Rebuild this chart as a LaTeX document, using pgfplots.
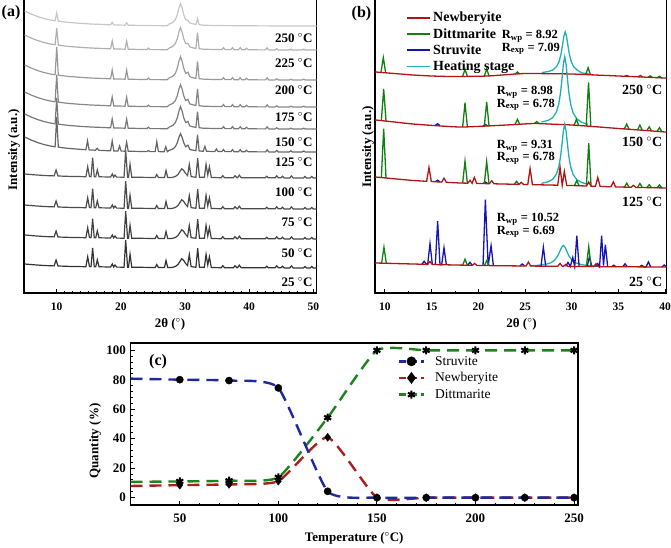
\documentclass[border=0pt]{standalone}
\usepackage{fontspec}
\setmainfont{Liberation Serif}
\usepackage{pgfplots}
\usepackage{pgfplotstable}
\pgfplotsset{compat=1.18}

\newcommand{\fs}[1]{\fontsize{#1}{#1}\selectfont}

% grey levels of the stacked patterns, dark (25 C) to light (250 C)
\definecolor{g25}{gray}{0.20}
\definecolor{g50}{gray}{0.25}
\definecolor{g75}{gray}{0.29}
\definecolor{g100}{gray}{0.33}
\definecolor{g125}{gray}{0.40}
\definecolor{g150}{gray}{0.47}
\definecolor{g175}{gray}{0.53}
\definecolor{g200}{gray}{0.60}
\definecolor{g225}{gray}{0.69}
\definecolor{g250}{gray}{0.78}
% phase colours
\definecolor{cNew}{RGB}{176,20,20}
\definecolor{cDit}{RGB}{16,128,16}
\definecolor{cStr}{RGB}{20,20,176}
\definecolor{cHeat}{RGB}{32,176,176}
\definecolor{qStr}{RGB}{30,40,160}
\definecolor{qNew}{RGB}{170,30,30}
\definecolor{qDit}{RGB}{30,130,30}

% struvite-type pattern (25-100 C), relative to its baseline
\pgfplotstableread{
x y
5.0 4.0
6.5 3.2
8.0 2.5
9.6 2.1
9.9 8.0
10.2 2.0
12.0 1.6
14.55 1.3
14.83 11.3
15.1 1.5
15.35 1.3
15.6 20.2
15.85 1.3
16.08 1.2
16.33 8.2
16.6 1.2
18.4 1.0
18.67 4.0
18.88 1.0
19.09 3.0
19.35 0.9
20.5 0.8
20.75 27.8
21.05 0.8
21.2 0.8
21.43 13.8
21.7 0.8
25.35 0.5
25.6 3.5
25.85 0.5
26.8 0.5
27.04 7.5
27.3 0.4
28.0 0.6
28.5 1.5
28.9 3.5
29.2 6.5
29.5 9.3
29.8 7.5
30.1 4.5
30.4 2.5
30.67 13.5
30.95 1.5
31.3 1.0
31.7 0.8
31.98 19.8
32.25 0.7
33.02 0.7
33.28 13.6
33.55 3.0
33.8 11.3
34.1 0.5
35.65 0.3
35.9 2.3
36.15 0.3
37.55 0.3
37.8 2.3
38.1 0.3
38.2 0.3
38.47 2.8
38.75 0.3
42.5 0.2
42.74 1.7
43.0 0.2
44.05 0.2
44.3 2.2
44.55 0.2
44.95 0.2
45.2 1.7
45.45 0.1
46.35 0.1
46.6 2.1
46.85 0.1
48.45 0.0
48.7 1.5
48.95 0.0
49.5 0.0
49.75 1.5
50.0 0.0
50.5 0.0
}\struvitetab

% dittmarite-type patterns, columns a..f = 250, 225, 200, 175, 150, 125 C
\pgfplotstableread{
x a b c d e f
5.0 15 15 15 15 15 15
6.0 12 12 12 12 12 12
7.0 9.5 9.5 9.5 9.5 9.5 9.5
8.0 7.5 7.5 7.5 7.5 7.5 7.5
9.0 6.0 6.0 6.0 6.0 6.0 6.0
9.75 5.2 5.2 5.2 5.2 5.2 5.2
10.0 13 22 33 32 31 35
10.25 4.9 4.9 4.9 4.9 4.9 4.9
11.0 4.2 4.2 4.2 4.2 4.2 4.2
12.0 3.5 3.5 3.5 3.5 3.5 3.5
14.0 2.5 2.5 2.5 2.5 2.5 2.5
14.55 2.3 2.3 2.3 2.3 2.3 2.3
14.8 2.2 2.2 2.2 2.2 2.2 11.2
15.05 2.1 2.1 2.1 2.1 2.1 2.1
16.05 1.8 1.8 1.8 1.8 1.8 1.8
16.3 1.75 1.75 1.75 1.75 1.75 3.75
16.55 1.7 1.7 1.7 1.7 1.7 1.7
18.4 1.15 1.15 1.15 1.15 1.15 1.15
18.65 3.6 9.1 10.1 10.1 10.1 11.1
18.9 1.05 1.05 1.05 1.05 1.05 1.05
19.55 1.0 1.0 1.0 1.0 1.0 1.0
19.8 0.95 0.95 0.95 0.95 0.95 5.95
20.05 0.9 0.9 0.9 0.9 0.9 0.9
20.65 0.82 0.82 0.82 0.82 0.82 0.82
20.9 3.3 8.8 9.8 9.8 9.8 9.8
21.15 0.78 0.78 0.78 0.78 0.78 0.78
24.05 0.42 0.42 0.42 0.42 0.42 0.42
24.3 0.4 1.9 1.9 1.9 1.9 1.4
24.55 0.4 0.4 0.4 0.4 0.4 0.4
25.35 0.38 0.38 0.38 0.38 0.38 0.38
25.6 0.37 0.37 0.37 0.37 0.37 10.37
25.85 0.36 0.36 0.36 0.36 0.36 0.36
26.75 0.33 0.33 0.33 0.33 0.33 0.33
27.0 0.32 0.32 0.32 0.32 0.32 5.32
27.25 0.32 0.32 0.32 0.32 0.32 0.32
27.5 1.84 1.84 1.91 1.84 1.84 1.56
28.1 3.6 3.6 3.75 3.6 3.6 3.0
28.5 6.46 6.46 6.74 6.46 6.46 5.34
28.8 11.3 11.3 11.8 11.3 11.3 9.3
29.05 17.9 17.9 18.7 17.9 17.9 14.7
29.3 22.3 22.3 23.3 22.3 22.3 18.3
29.55 17.9 17.9 18.7 17.9 17.9 14.7
29.8 11.3 11.3 11.8 11.3 11.3 9.3
30.1 6.4 6.4 6.7 6.4 6.4 5.3
30.45 5.65 6.65 7.85 7.65 7.65 6.85
30.75 3.1 3.1 3.25 3.1 3.1 2.6
31.1 2.4 2.4 2.5 2.4 2.4 2.0
31.7 1.5 1.5 1.6 1.5 1.5 1.3
31.95 7.4 17.4 18.5 18.4 17.4 17.2
32.2 1.3 1.3 1.35 1.3 1.3 1.1
32.85 0.8 0.8 0.85 0.8 0.8 0.7
33.1 0.8 0.8 0.8 0.8 0.8 5.7
33.35 0.7 0.7 0.7 0.7 0.7 0.7
34.65 0.5 0.5 0.5 0.5 0.5 0.5
34.9 0.5 0.5 0.5 0.5 0.5 3.0
35.15 0.45 0.45 0.45 0.45 0.45 0.45
35.75 0.4 0.4 0.4 0.4 0.4 0.4
36.0 0.4 2.4 2.4 2.4 2.4 2.4
36.25 0.4 0.4 0.4 0.4 0.4 0.4
37.15 0.35 0.35 0.35 0.35 0.35 0.35
37.4 0.35 2.35 2.35 2.35 2.35 2.35
37.65 0.3 0.3 0.3 0.3 0.3 0.3
38.35 0.3 0.3 0.3 0.3 0.3 0.3
38.6 0.3 2.3 2.3 2.3 2.3 2.3
38.85 0.3 0.3 0.3 0.3 0.3 0.3
39.35 0.25 0.25 0.25 0.25 0.25 0.25
39.6 0.25 1.75 1.75 1.75 1.75 1.75
39.85 0.2 0.2 0.2 0.2 0.2 0.2
42.55 0.1 0.1 0.1 0.1 0.1 0.1
42.8 0.1 2.1 2.1 2.1 2.1 2.1
43.05 0.1 0.1 0.1 0.1 0.1 0.1
44.05 0.05 0.05 0.05 0.05 0.05 0.05
44.3 0.05 1.25 1.25 1.25 1.25 1.55
44.55 0 0 0 0 0 0
46.25 0 0 0 0 0 0
46.5 0 0.8 0.8 0.8 0.8 1.2
46.75 0 0 0 0 0 0
48.25 0 0 0 0 0 0
48.5 0 0.8 0.8 0.8 0.8 1.0
48.75 0 0 0 0 0 0
50.5 0 0 0 0 0 0
}\dittmtab

\tikzset{
  tlab/.style={anchor=east, font=\bfseries\fs{13}, inner sep=0pt},
  rlab/.style={anchor=north west, align=left, font=\bfseries\fs{12.5}, inner sep=0pt},
}
\pgfplotsset{
  panel/.style={
    scale only axis, anchor=south west,
    axis line style={line width=1.6pt},
    every tick/.style={black, line width=1pt},
    tick align=inside, major tick length=4pt, minor tick length=2.5pt,
    /pgf/number format/assume math mode=true,
    label style={font=\bfseries\fs{13}},
  },
  xrd/.style={
    panel, height=295pt, ymin=0, ymax=295,
    ytick=\empty, xtick pos=left,
    xticklabel style={font=\bfseries\fs{11.5}, anchor=center, yshift=-14pt, inner sep=0pt},
    xlabel={2θ ($^{\circ}$)},
    ylabel={Intensity (a.u.)},
  },
  dline/.style={line width=2.4pt, dash pattern=on 12pt off 7pt, smooth, tension=0.3},
  mk/.style={only marks, black, mark options={solid, fill=black}},
}

\begin{document}
\begin{tikzpicture}
\path[use as bounding box] (0pt,0pt) rectangle (671pt,547pt);

% ---------------- (a) in-situ patterns ----------------
\begin{axis}[xrd, at={(24pt,254pt)}, width=292.5pt,
  xmin=4.9, xmax=50.5, xtick={10,20,30,40,50}, minor x tick num=7,
  xlabel style={at={(axis description cs:0.499,-0.105)}, anchor=center},
  ylabel style={at={(axis description cs:-0.034,0.485)}, anchor=center},
  every axis plot/.append style={line width=1.2pt}]
\addplot[g25] table[x=x, y expr=\thisrow{y}+25] {\struvitetab};
\addplot[g50] table[x=x, y expr=\thisrow{y}+54] {\struvitetab};
\addplot[g75] table[x=x, y expr=\thisrow{y}+84] {\struvitetab};
\addplot[g100] table[x=x, y expr=\thisrow{y}+115] {\struvitetab};
\addplot[g125] table[x=x, y expr=\thisrow{f}+141] {\dittmtab};
\addplot[g150] table[x=x, y expr=\thisrow{e}+164] {\dittmtab};
\addplot[g175] table[x=x, y expr=\thisrow{d}+186] {\dittmtab};
\addplot[g200] table[x=x, y expr=\thisrow{c}+213] {\dittmtab};
\addplot[g225] table[x=x, y expr=\thisrow{b}+243] {\dittmtab};
\addplot[g250] table[x=x, y expr=\thisrow{a}+267] {\dittmtab};
\node[tlab] at (axis cs:49.9,255) {250 $^{\circ}$C};
\node[tlab] at (axis cs:49.9,230) {225 $^{\circ}$C};
\node[tlab] at (axis cs:49.9,203) {200 $^{\circ}$C};
\node[tlab] at (axis cs:49.9,176) {175 $^{\circ}$C};
\node[tlab] at (axis cs:49.9,151) {150 $^{\circ}$C};
\node[tlab] at (axis cs:49.9,131) {125 $^{\circ}$C};
\node[tlab] at (axis cs:49.9,101) {100 $^{\circ}$C};
\node[tlab] at (axis cs:49.9,71) {75 $^{\circ}$C};
\node[tlab] at (axis cs:49.9,40) {50 $^{\circ}$C};
\node[tlab] at (axis cs:49.9,11) {25 $^{\circ}$C};
\end{axis}

% ---------------- (b) refined phase contributions ----------------
\begin{axis}[xrd, at={(375pt,254pt)}, width=291.5pt,
  xmin=8.93, xmax=40.15, xtick={10,15,...,40}, minor x tick num=1,
  unbounded coords=jump,
  xlabel style={at={(axis description cs:0.503,-0.105)}, anchor=center},
  ylabel style={at={(axis description cs:-0.024,0.495)}, anchor=center},
  every axis plot/.append style={line width=1.3pt, forget plot},
  legend style={at={(0.097,0.966)}, anchor=north west, draw=none, fill=none,
    font=\bfseries\fs{14}, row sep=1pt},
  legend cell align=left,
  legend image code/.code={\draw[#1, line width=1.7pt] (0pt,0pt) -- (23pt,0pt);}]
% 250 C
\addplot[cHeat] coordinates {(26.8,220.4) (27.5,221.5) (28.0,223.1) (28.4,226.8) (28.65,231.6) (28.85,238.8) (29.0,247.0) (29.15,256.5) (29.3,261.1) (29.45,256.4) (29.6,246.9) (29.75,238.6) (29.95,231.3) (30.2,226.4) (30.6,222.8) (31.1,220.0) (31.8,219.4)};
\addplot[cDit] coordinates {(9.57,220.6) (9.82,235.4) (10.07,220.2) (10.1,nan)
 (18.32,216.6) (18.57,223.7) (18.82,216.7) (18.9,nan)
 (20.64,216.9) (20.89,224.0) (21.14,217.1) (21.2,nan)
 (23.93,218.8) (24.18,221.0) (24.43,219.1) (24.5,nan)
 (31.5,218.4) (31.75,225.3) (32.0,218.2) (32.1,nan)
 (35.65,216.7) (35.9,217.6) (36.15,216.5) (36.2,nan)
 (37.1,216.2) (37.35,217.6) (37.6,216.0) (37.7,nan)
 (38.15,215.7) (38.4,217.1) (38.65,215.5) (38.7,nan)
 (39.15,215.3) (39.4,216.7) (39.65,215.1)};
\addplot[cNew, smooth] coordinates {(8.93,221.2) (9,221) (11,219.5) (13,218) (15,217) (17,216.5) (19,216.6) (21,217) (23,218.3) (25,219.5) (27.5,219.3) (30,219) (32.5,218) (35,217) (37.5,216) (40.15,214.9)};
% 150 C
\addplot[cHeat] coordinates {(26.75,171.0) (27.45,172.5) (27.95,175.2) (28.35,180.8) (28.6,188.6) (28.8,200.2) (28.95,213.4) (29.1,228.7) (29.25,236.3) (29.4,228.6) (29.55,213.2) (29.7,199.8) (29.9,188.2) (30.15,180.1) (30.55,174.0) (31.05,170.8) (31.75,168.6)};
\addplot[cStr] coordinates {(15.39,167.6) (15.64,169.2) (15.89,167.4) (15.9,nan) (20.5,166.9) (20.75,168.5) (21.0,167.1)};
\addplot[cDit] coordinates {(9.61,172.4) (9.86,204.1) (10.11,171.9) (10.2,nan)
 (18.32,166.1) (18.57,190.2) (18.82,166.3) (18.9,nan)
 (20.64,167.0) (20.89,191.1) (21.14,167.2) (21.2,nan)
 (23.93,168.5) (24.18,173.6) (24.43,168.7) (24.5,nan)
 (26.0,169.5) (26.25,171.4) (26.5,169.3) (26.6,nan)
 (30.25,167.8) (30.5,173.65) (30.75,167.5) (30.8,nan)
 (31.55,166.9) (31.8,210.7) (32.05,166.5) (32.1,nan)
 (35.64,164.1) (35.89,168.9) (36.14,163.7) (36.2,nan)
 (37.05,163.1) (37.3,167.9) (37.55,162.7) (37.6,nan)
 (38.05,162.4) (38.3,166.2) (38.55,162.0) (38.6,nan)
 (39.15,161.6) (39.4,165.4) (39.65,161.2)};
\addplot[cNew, smooth] coordinates {(8.93,173.1) (9,173) (11,171) (13,169) (15.5,167.3) (18,166) (20,166.6) (22,167.5) (24,168.5) (26,169.5) (28,168.8) (30,168) (32.5,166.3) (35,164.5) (37.5,162.8) (40.15,160.9)};
% 125 C
\addplot[cHeat] coordinates {(26.75,109.7) (27.45,111.15) (27.95,113.55) (28.35,118.7) (28.6,125.75) (28.8,136.1) (28.95,148.1) (29.1,161.75) (29.25,168.65) (29.4,161.7) (29.55,148.0) (29.7,136.0) (29.9,125.6) (30.15,118.5) (30.55,113.2) (31.05,110.6) (31.75,108.6)};
\addplot[cStr] coordinates {(15.39,111.3) (15.64,112.8) (15.89,111.1) (15.9,nan) (20.5,109.5) (20.75,111.0) (21.0,109.4)};
\addplot[cDit] coordinates {(9.61,115.5) (9.86,164.3) (10.11,115.0) (10.2,nan)
 (18.32,110.0) (18.57,131.9) (18.82,109.85) (18.9,nan)
 (20.64,109.45) (20.89,131.4) (21.14,109.35) (21.2,nan)
 (23.85,108.75) (24.1,111.7) (24.35,108.65) (24.4,nan)
 (30.29,107.4) (30.54,112.35) (30.79,107.3) (30.8,nan)
 (31.57,107.0) (31.82,149.9) (32.07,106.8) (32.1,nan)
 (35.64,105.85) (35.89,109.8) (36.14,105.8) (36.2,nan)
 (37.05,105.6) (37.3,109.55) (37.55,105.5) (37.6,nan)
 (38.05,105.4) (38.3,108.35) (38.55,105.3) (38.6,nan)
 (39.15,105.15) (39.4,108.1) (39.65,105.1)};
\addplot[cNew] coordinates {(8.93,116.1) (9,116) (11,114.2) (13,112.5) (14.46,111.7) (14.71,125.6) (14.96,111.5) (15.5,111.2) (16.07,110.9) (16.32,114.8) (16.57,110.7) (18,110) (18.86,109.8) (19.11,112.7) (19.33,109.7) (19.57,115.6) (19.82,109.6) (21.18,109.3) (21.43,112.2) (21.68,109.2) (24.35,108.6) (24.6,110.6) (24.85,108.5) (25.29,108.45) (25.54,124.4) (25.79,108.35) (27.5,108) (28.5,107.8) (28.75,125.7) (28.98,107.7) (29.21,121.6) (29.46,107.6) (30,107.5) (31.57,107.0) (31.82,110.9) (32.07,106.8) (32.54,106.7) (32.79,115.6) (33.04,106.6) (34.2,106.2) (34.45,111.1) (34.7,106.1) (36.35,105.7) (36.6,107.7) (36.85,105.6) (37.5,105.5) (40.15,105)};
% 25 C
\addplot[cHeat] coordinates {(25.5,27.1) (26.3,27.6) (27.2,28.6) (27.8,30.35) (28.2,33.1) (28.5,37.1) (28.7,41.1) (28.9,45.5) (29.1,47.6) (29.3,45.5) (29.5,41.1) (29.7,37.1) (30.0,33.05) (30.4,30.2) (31.0,28.4) (31.9,27.3) (33.0,26.6)};
\addplot[cStr] coordinates {(13.95,28.75) (14.2,31.7) (14.45,28.65) (14.57,28.6) (14.82,49.55) (15.07,28.5) (15.2,nan)
 (15.39,28.45) (15.64,71.9) (15.89,28.35) (16.07,28.3) (16.32,45.25) (16.57,28.2) (16.6,nan)
 (18.85,27.75) (19.1,30.7) (19.35,27.65) (19.4,nan)
 (20.5,27.45) (20.75,93.4) (21.05,27.4) (21.36,47.35) (21.61,27.3) (21.7,nan)
 (24.45,27.05) (24.7,29.05) (24.95,27.0) (25.0,nan)
 (26.71,26.85) (26.96,45.8) (27.21,26.8) (27.3,nan)
 (29.35,26.6) (29.6,30.55) (29.85,26.5) (30.11,35.5) (30.32,26.5) (30.54,57.45) (30.79,26.45) (30.9,nan)
 (31.65,26.4) (31.9,36.4) (32.15,26.4) (32.2,nan)
 (32.55,26.35) (32.79,29.35) (32.98,26.35) (33.2,57.3) (33.4,27.5) (33.6,48.3) (33.85,26.3) (33.9,nan)
 (34.25,26.25) (34.5,27.75) (34.75,26.25) (34.8,nan)
 (35.46,26.2) (35.71,29.2) (35.96,26.2) (36.0,nan)
 (37.25,26.15) (37.5,27.65) (37.75,26.1) (37.96,26.1) (38.21,31.1) (38.46,26.1) (38.5,nan)
 (39.65,26.0) (39.9,28.0) (40.15,26.0)};
\addplot[cDit] coordinates {(9.64,29.85) (9.89,45.8) (10.14,29.75) (10.2,nan)
 (18.32,27.85) (18.57,33.8) (18.82,27.75) (18.9,nan)
 (20.65,27.45) (20.9,32.4) (21.15,27.4) (21.2,nan)
 (31.57,26.4) (31.82,46.4) (32.07,26.4)};
\addplot[cNew] coordinates {(8.93,30.05) (9,30) (12,29.25) (14.57,28.6) (14.82,31.5) (15.07,28.5) (17.5,28) (19.35,27.65) (19.6,29.6) (19.85,27.55) (25,27) (25.11,27.0) (25.36,31.0) (25.61,26.95) (28.5,26.65) (28.75,29.6) (29.0,26.6) (29.1,26.6) (29.35,28.6) (29.6,26.55) (30,26.5) (32.35,26.4) (32.6,29.35) (32.85,26.35) (35,26.25) (40.15,26)};
% legend
\addlegendimage{cNew}\addlegendentry{Newberyite}
\addlegendimage{cDit}\addlegendentry{Dittmarite}
\addlegendimage{cStr}\addlegendentry{Struvite}
\addlegendimage{cHeat}\addlegendentry{Heating stage}
% fit quality and temperatures
\node[rlab] at (axis cs:22.5,263) {R\textsubscript{wp} = 8.92\\R\textsubscript{exp} = 7.09};
\node[rlab] at (axis cs:21.97,207) {R\textsubscript{wp} = 8.98\\R\textsubscript{exp} = 6.78};
\node[rlab] at (axis cs:21.97,153) {R\textsubscript{wp} = 9.31\\R\textsubscript{exp} = 6.78};
\node[rlab] at (axis cs:21.97,80) {R\textsubscript{wp} = 10.52\\R\textsubscript{exp} = 6.69};
\node[tlab, font=\bfseries\fs{14}] at (axis cs:39.7,203) {250 $^{\circ}$C};
\node[tlab, font=\bfseries\fs{14}] at (axis cs:39.7,151) {150 $^{\circ}$C};
\node[tlab, font=\bfseries\fs{14}] at (axis cs:39.7,91) {125 $^{\circ}$C};
\node[tlab, font=\bfseries\fs{14}] at (axis cs:39.7,11) {25 $^{\circ}$C};
\end{axis}

% ---------------- (c) phase fractions ----------------
\begin{axis}[panel, at={(130.5pt,42pt)}, width=447.5pt, height=162pt,
  xmin=25, xmax=252, ymin=-5, ymax=105,
  xtick={50,100,...,250}, minor x tick num=4,
  ytick={0,20,...,100}, minor y tick num=4,
  xtick pos=left, ytick pos=left,
  clip marker paths=true,
  xticklabel style={font=\bfseries\fs{13}, anchor=center, yshift=-13pt, inner sep=0pt},
  yticklabel style={font=\bfseries\fs{13}, anchor=east, xshift=-4.5pt, inner sep=0pt},
  xlabel={Temperature ($^{\circ}$C)},
  ylabel={Quantity (\%)},
  xlabel style={at={(axis description cs:0.5,-0.204)}, anchor=center},
  ylabel style={at={(axis description cs:-0.079,0.395)}, anchor=center},
  every axis plot/.append style={forget plot},
  legend style={at={(0.59,0.945)}, anchor=north west, draw=none, fill=none,
    font=\fs{13.5}, row sep=2pt,
    /tikz/every odd column/.append style={column sep=8pt}},
  legend cell align=left,
  legend image code/.code={\draw[mark repeat=2, mark phase=2, #1] plot coordinates {(0pt,0pt) (12.5pt,0pt) (25pt,0pt)};}]
\addplot[qNew, dline] coordinates {(25,7.9) (50,8.5) (75,9) (100,11.2) (125,41) (150,0) (175,0) (200,0) (225,0) (250,0)};
\addplot[qDit, dline] coordinates {(25,10.7) (50,11) (75,11.5) (100,13.8) (125,54.3) (150,100) (175,100) (200,100) (225,100) (250,100)};
\addplot[qStr, dline] coordinates {(25,80.8) (50,80.1) (75,79.5) (100,74.5) (125,4.3) (150,0) (175,0) (200,0) (225,0) (250,0)};
\addplot[mk, mark=diamond*, mark size=4pt] coordinates {(50,8.5) (75,9) (100,11.2) (125,41) (150,0) (175,0) (200,0) (225,0) (250,0)};
\addplot[mk, mark=*, mark size=3.6pt] coordinates {(50,80.1) (75,79.5) (100,74.5) (125,4.3) (150,0) (175,0) (200,0) (225,0) (250,0)};
\addplot[mk, mark=asterisk, mark size=4pt, mark options={line width=2pt}] coordinates {(50,11) (75,11.5) (100,13.8) (125,54.3) (150,100) (175,100) (200,100) (225,100) (250,100)};
\addlegendimage{qStr, line width=2.4pt, dash pattern=on 7pt off 4pt, mark=*, mark size=3.6pt, mark options={solid, black, fill=black}}
\addlegendentry{Struvite}
\addlegendimage{qNew, line width=2.4pt, dash pattern=on 7pt off 4pt, mark=diamond*, mark size=4pt, mark options={solid, black, fill=black}}
\addlegendentry{Newberyite}
\addlegendimage{qDit, line width=2.4pt, dash pattern=on 7pt off 4pt, mark=asterisk, mark size=4pt, mark options={solid, black, line width=2pt}}
\addlegendentry{Dittmarite}
\node[font=\bfseries\fs{16}] at (axis cs:39,92) {(c)};
\end{axis}

% panel letters
\node[font=\bfseries\fs{16}] at (11pt,534pt) {(a)};
\node[font=\bfseries\fs{16}] at (361.5pt,533pt) {(b)};
\end{tikzpicture}
\end{document}
